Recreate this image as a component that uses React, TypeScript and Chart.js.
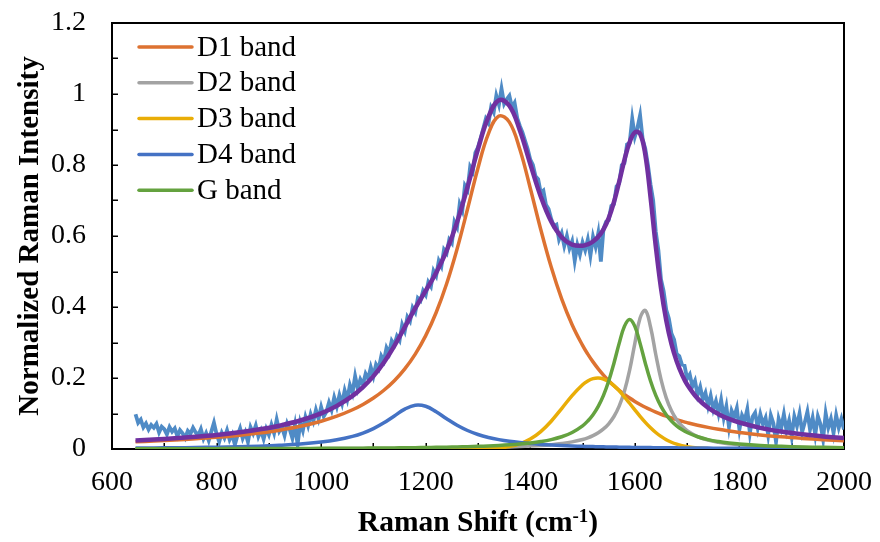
import React, { useEffect, useRef } from 'react';
import { Chart, registerables } from 'chart.js';

Chart.register(...registerables);

const FONT = "'Liberation Serif', 'Times New Roman', serif";

// Shared Raman-shift grid for the fitted band curves (cm-1)
const fitX = [
  645, 680, 720, 760, 800, 840, 880, 920, 960, 1000,
  1030, 1060,
  1080, 1100, 1120, 1140, 1160, 1180, 1200, 1220, 1240, 1260, 1280, 1300, 1320, 1340, 1360, 1380, 1400, 1420, 1440, 1460, 1480, 1500,
  1510, 1520, 1530, 1540, 1550, 1560, 1570, 1580, 1590, 1600, 1610, 1620, 1630, 1640, 1650, 1660, 1670, 1680, 1690, 1700,
  1720, 1740, 1760, 1780, 1800,
  1840, 1880, 1920, 1960, 2000,
];

const d1Band = [
  0.0203, 0.0224, 0.0253, 0.0288, 0.0330, 0.0382, 0.0448, 0.0531, 0.0639, 0.0783,
  0.0924, 0.1105,
  0.1255, 0.1435, 0.1655, 0.1924, 0.2257, 0.2673, 0.3193, 0.3845, 0.4655, 0.5635, 0.6760, 0.7918, 0.8886, 0.9378, 0.9208, 0.8443, 0.7345, 0.6184, 0.5124, 0.4229, 0.3501, 0.2918,
  0.2673, 0.2454, 0.2257, 0.2082, 0.1924, 0.1782, 0.1655, 0.1539, 0.1435, 0.1341, 0.1255, 0.1176, 0.1105, 0.1039, 0.0979, 0.0924, 0.0873, 0.0826, 0.0783, 0.0743,
  0.0671, 0.0609, 0.0555, 0.0508, 0.0467,
  0.0397, 0.0342, 0.0298, 0.0261, 0.0231,
];

const d2Band = [
  0.00042, 0.00046, 0.0005, 0.00054, 0.0006, 0.00066, 0.00074, 0.00082, 0.00093, 0.00105,
  0.00116, 0.00129,
  0.00138, 0.00149, 0.00161, 0.00175, 0.00191, 0.00209, 0.00229, 0.00252, 0.0028, 0.00311, 0.00348, 0.00393, 0.00447, 0.00513, 0.00595, 0.00696, 0.00827, 0.00998, 0.01227, 0.01545, 0.02, 0.0268,
  0.0316, 0.0378, 0.0458, 0.0565, 0.0711, 0.0915, 0.1206, 0.1627, 0.222, 0.2978, 0.3689, 0.3905, 0.3437, 0.2662, 0.196, 0.144, 0.1077, 0.0825, 0.0647, 0.0518,
  0.0351, 0.0252, 0.0189, 0.0147, 0.0118,
  0.008, 0.00576, 0.00435, 0.0034, 0.00273,
];

const d3Band = [
  0, 0, 0, 0, 0, 0, 0, 0, 0, 0,
  0, 0,
  0, 0, 0, 0, 0, 0, 0, 0, 0, 0, 0.0001, 0.0004, 0.0011, 0.0029, 0.0068, 0.0145, 0.0279, 0.049, 0.0783, 0.1139, 0.1505, 0.1811,
  0.1916, 0.1981, 0.2, 0.1972, 0.1898, 0.1785, 0.1639, 0.147, 0.1288, 0.1101, 0.092, 0.0751, 0.0598, 0.0465, 0.0354, 0.0262, 0.019, 0.0135, 0.0093, 0.0063,
  0.0027, 0.001, 0.0004, 0.0001, 0,
  0, 0, 0, 0, 0,
];

const d4Band = [
  0.00265, 0.00302, 0.00355, 0.00422, 0.00511, 0.00629, 0.00793, 0.0103, 0.0138, 0.0194,
  0.0258, 0.0356,
  0.045, 0.0575, 0.0738, 0.0932, 0.1122, 0.1233, 0.1203, 0.105, 0.0852, 0.0668, 0.0521, 0.0409, 0.0326, 0.0264, 0.0216, 0.018, 0.0152, 0.013, 0.0112, 0.00974, 0.00855, 0.00756,
  0.00713, 0.00673, 0.00636, 0.00603, 0.00571, 0.00542, 0.00516, 0.00491, 0.00468, 0.00446, 0.00426, 0.00407, 0.0039, 0.00373, 0.00358, 0.00343, 0.0033, 0.00317, 0.00305, 0.00293,
  0.00272, 0.00253, 0.00236, 0.00221, 0.00207,
  0.00183, 0.00163, 0.00146, 0.00131, 0.00119,
];

const gBand = [
  0.00072, 0.00078, 0.00085, 0.00093, 0.00103, 0.00114, 0.00127, 0.00143, 0.00161, 0.00184,
  0.00204, 0.00228,
  0.00246, 0.00266, 0.00289, 0.00315, 0.00345, 0.00379, 0.00419, 0.00464, 0.00519, 0.00582, 0.00658, 0.0075, 0.00863, 0.01003, 0.01178, 0.01404, 0.017, 0.021, 0.0265, 0.0345, 0.0464, 0.0653,
  0.0789, 0.0966, 0.12, 0.151, 0.1914, 0.2417, 0.2975, 0.3454, 0.365, 0.3454, 0.2975, 0.2417, 0.1914, 0.151, 0.12, 0.0966, 0.0789, 0.0653, 0.0547, 0.0464,
  0.0345, 0.0265, 0.021, 0.017, 0.01404,
  0.01003, 0.0075, 0.00582, 0.00464, 0.00379,
];

const fitTotal = [
  0.0241, 0.0267, 0.0302, 0.0345, 0.0397, 0.0463, 0.0547, 0.0657, 0.0802, 0.1006,
  0.1214, 0.1497,
  0.1743, 0.2052, 0.2438, 0.2905, 0.3433, 0.3965, 0.4461, 0.4967, 0.5587, 0.6392, 0.7383, 0.8445, 0.9354, 0.9822, 0.9669, 0.8978, 0.8029, 0.7114, 0.6407, 0.5965, 0.5756, 0.5726,
  0.5765, 0.5846, 0.5979, 0.6189, 0.6504, 0.6953, 0.7527, 0.8139, 0.864, 0.8919, 0.8882, 0.829, 0.7093, 0.5713, 0.4529, 0.3626, 0.2962, 0.2471, 0.2101, 0.1817,
  0.1421, 0.1161, 0.0982, 0.0848, 0.0746,
  0.0596, 0.0491, 0.0414, 0.0355, 0.0308,
];

// Measured (noisy) spectrum: first shift and spacing, then intensities
const rawStart = 645;
const rawStep = 5;
const rawIntensity = [
  0.098, 0.074, 0.083, 0.061, 0.072, 0.055, 0.068, 0.060, 0.071, 0.047,
  0.063, 0.056, 0.041, 0.062, 0.049, 0.058, 0.036, 0.053, 0.044, 0.031,
  0.051, 0.043, 0.060, 0.047, 0.038, 0.056, 0.029, 0.045, 0.024, 0.049,
  0.074, 0.042, 0.020, 0.046, 0.031, 0.053, 0.026, 0.041, 0.012, 0.038,
  0.058, 0.030, 0.047, 0.020, 0.061, 0.044, 0.066, 0.035, 0.052, 0.028,
  0.057, 0.040, 0.068, 0.045, 0.083, 0.050, 0.062, 0.038, 0.072, 0.055,
  0.030, 0.068, 0.012, 0.075, 0.052, 0.090, 0.066, 0.098, 0.078, 0.110,
  0.085, 0.118, 0.092, 0.105, 0.131, 0.110, 0.145, 0.120, 0.152, 0.128,
  0.165, 0.140, 0.180, 0.158, 0.205, 0.170, 0.196, 0.182, 0.212, 0.198,
  0.230, 0.205, 0.238, 0.226, 0.262, 0.248, 0.285, 0.270, 0.305, 0.293,
  0.318, 0.306, 0.350, 0.332, 0.372, 0.360, 0.398, 0.385, 0.425, 0.418,
  0.446, 0.434, 0.470, 0.458, 0.502, 0.488, 0.530, 0.515, 0.562, 0.552,
  0.590, 0.580, 0.640, 0.625, 0.690, 0.672, 0.742, 0.730, 0.795, 0.782,
  0.835, 0.850, 0.875, 0.902, 0.930, 0.918, 0.962, 0.948, 0.995, 0.970,
  1.015, 0.972, 0.985, 0.995, 0.962, 0.975, 0.932, 0.910, 0.892, 0.868,
  0.845, 0.815, 0.800, 0.768, 0.760, 0.722, 0.728, 0.688, 0.676, 0.648,
  0.628, 0.632, 0.590, 0.608, 0.572, 0.600, 0.565, 0.585, 0.530, 0.575,
  0.548, 0.582, 0.560, 0.590, 0.545, 0.598, 0.570, 0.608, 0.528, 0.620,
  0.640, 0.645, 0.685, 0.690, 0.740, 0.748, 0.800, 0.805, 0.858, 0.862,
  0.930, 0.880, 0.905, 0.940, 0.872, 0.845, 0.800, 0.745, 0.700, 0.612,
  0.560, 0.478, 0.445, 0.392, 0.368, 0.325, 0.308, 0.268, 0.262, 0.238,
  0.235, 0.198, 0.210, 0.176, 0.192, 0.152, 0.175, 0.140, 0.158, 0.121,
  0.150, 0.112, 0.135, 0.100, 0.138, 0.088, 0.120, 0.062, 0.108, 0.090,
  0.115, 0.055, 0.095, 0.080, 0.112, 0.045, 0.090, 0.102, 0.060, 0.098,
  0.070, 0.088, 0.040, 0.095, 0.072, 0.020, 0.085, 0.060, 0.098, 0.052,
  0.080, 0.035, 0.092, 0.065, 0.100, 0.048, 0.075, 0.105, 0.055, 0.088,
  0.040, 0.092, 0.070, 0.028, 0.100, 0.060, 0.085, 0.045, 0.095, 0.060,
  0.085, 0.055,
];

const bandLabels = ['D1 band', 'D2 band', 'D3 band', 'D4 band', 'G band'];
const bandColors = ['#DD7231', '#A3A3A3', '#E9AD07', '#4472C4', '#64A23F'];
const totalColor = '#7030A0';
const rawColor = '#4F8BC6';

const xMinorTicks = [700, 800, 900, 1000, 1100, 1200, 1300, 1400, 1500, 1600, 1700, 1800, 1900];
const yMinorTicks = [0.1, 0.2, 0.3, 0.4, 0.5, 0.6, 0.7, 0.8, 0.9, 1.0, 1.1];

const xTitleMain = 'Raman Shift (cm';
const xTitleSup = '-1';
const xTitleEnd = ')';
const yTitle = 'Normalized Raman Intensity';

const framePlugin = {
  id: 'frame',
  beforeDatasetsDraw(chart: any) {
    const { ctx, chartArea, scales } = chart;
    const { left, right, top, bottom } = chartArea;
    ctx.save();
    ctx.strokeStyle = '#000';
    ctx.lineWidth = 2;
    ctx.strokeRect(left, top, right - left, bottom - top);
    ctx.lineWidth = 1.5;
    ctx.beginPath();
    for (const v of xMinorTicks) {
      const px = Math.round(scales.x.getPixelForValue(v)) + 0.25;
      ctx.moveTo(px, bottom);
      ctx.lineTo(px, bottom - 6);
    }
    for (const v of yMinorTicks) {
      const py = Math.round(scales.y.getPixelForValue(v)) + 0.25;
      ctx.moveTo(left, py);
      ctx.lineTo(left + 6, py);
    }
    ctx.stroke();
    ctx.restore();
  },
};

const legendPlugin = {
  id: 'insideLegend',
  afterDatasetsDraw(chart: any) {
    const { ctx } = chart;
    ctx.save();
    ctx.font = `29px ${FONT}`;
    ctx.textBaseline = 'middle';
    ctx.textAlign = 'left';
    bandLabels.forEach((label, i) => {
      const y = 47 + i * 35.8;
      ctx.strokeStyle = bandColors[i];
      ctx.lineWidth = 3.5;
      ctx.lineCap = 'round';
      ctx.beginPath();
      ctx.moveTo(139, y);
      ctx.lineTo(192, y);
      ctx.stroke();
      ctx.fillStyle = '#000';
      ctx.fillText(label, 197, y + 1);
    });
    ctx.restore();
  },
};

const xTitlePlugin = {
  id: 'xTitle',
  afterDraw(chart: any) {
    const { ctx, chartArea } = chart;
    const cx = (chartArea.left + chartArea.right) / 2;
    const baseY = 531;
    ctx.save();
    ctx.fillStyle = '#000';
    ctx.textBaseline = 'alphabetic';
    ctx.textAlign = 'left';
    const mainFont = `bold 29.5px ${FONT}`;
    const supFont = `bold 19px ${FONT}`;
    ctx.font = mainFont;
    const w1 = ctx.measureText(xTitleMain).width;
    const w3 = ctx.measureText(xTitleEnd).width;
    ctx.font = supFont;
    const w2 = ctx.measureText(xTitleSup).width;
    let x = cx - (w1 + w2 + w3) / 2;
    ctx.font = mainFont;
    ctx.fillText(xTitleMain, x, baseY);
    x += w1;
    ctx.font = supFont;
    ctx.fillText(xTitleSup, x, baseY - 9);
    x += w2;
    ctx.font = mainFont;
    ctx.fillText(xTitleEnd, x, baseY);
    ctx.restore();
  },
};

export default function App() {
  const ref = useRef<HTMLCanvasElement>(null);

  useEffect(() => {
    if (!ref.current) return;
    const fitSeries = (ys: number[]) => fitX.map((x, i) => ({ x, y: ys[i] }));
    const bandData = [d1Band, d2Band, d3Band, d4Band, gBand];
    const bandOrder = [5, 4, 3, 2, 1];
    const datasets: any[] = [
      {
        label: 'Measured',
        data: rawIntensity.map((y, i) => ({ x: rawStart + i * rawStep, y })),
        borderColor: rawColor,
        borderWidth: 3.8,
        pointRadius: 0,
        tension: 0,
        order: 6,
      },
      ...bandLabels.map((label, i) => ({
        label,
        data: fitSeries(bandData[i]),
        borderColor: bandColors[i],
        borderWidth: 3.5,
        pointRadius: 0,
        tension: 0.4,
        order: bandOrder[i],
      })),
      {
        label: 'Fit',
        data: fitSeries(fitTotal),
        borderColor: totalColor,
        borderWidth: 4.5,
        pointRadius: 0,
        tension: 0.4,
        order: 0,
      },
    ];

    const chart = new Chart(ref.current, {
      type: 'line',
      data: { datasets },
      options: {
        animation: false,
        responsive: true,
        maintainAspectRatio: false,
        devicePixelRatio: 1,
        layout: { padding: { left: 0, right: 36, top: 23, bottom: 0 } },
        plugins: {
          legend: { display: false },
          tooltip: { enabled: false },
        },
        scales: {
          x: {
            type: 'linear',
            min: 600,
            max: 2000,
            afterFit: (s: any) => {
              s.height = 93;
              s.paddingLeft = 0;
              s.paddingRight = 0;
              s.paddingTop = 0;
              s.paddingBottom = 0;
            },
            grid: { display: false, drawTicks: false },
            border: { display: false },
            ticks: {
              stepSize: 200,
              padding: 17,
              color: '#000',
              font: { family: FONT, size: 28 },
              maxRotation: 0,
              callback: (v: any) => String(v),
            },
          },
          y: {
            type: 'linear',
            min: 0,
            max: 1.2,
            afterFit: (s: any) => {
              s.width = 112;
              s.paddingLeft = 0;
              s.paddingRight = 0;
              s.paddingTop = 0;
              s.paddingBottom = 0;
            },
            grid: { display: false, drawTicks: false },
            border: { display: false },
            ticks: {
              stepSize: 0.2,
              padding: 26,
              color: '#000',
              font: { family: FONT, size: 28 },
              callback: (v: any) => String(Math.round(Number(v) * 10) / 10),
            },
            title: {
              display: true,
              text: yTitle,
              color: '#000',
              font: { family: FONT, size: 29, weight: 'bold' },
              padding: { top: 13, bottom: 0 },
            },
          },
        },
      },
      plugins: [framePlugin, legendPlugin, xTitlePlugin],
    });
    return () => chart.destroy();
  }, []);

  return (
    <div style={{ position: 'fixed', left: 0, top: 0, width: 880, height: 542, background: '#fff' }}>
      <canvas ref={ref} />
    </div>
  );
}
